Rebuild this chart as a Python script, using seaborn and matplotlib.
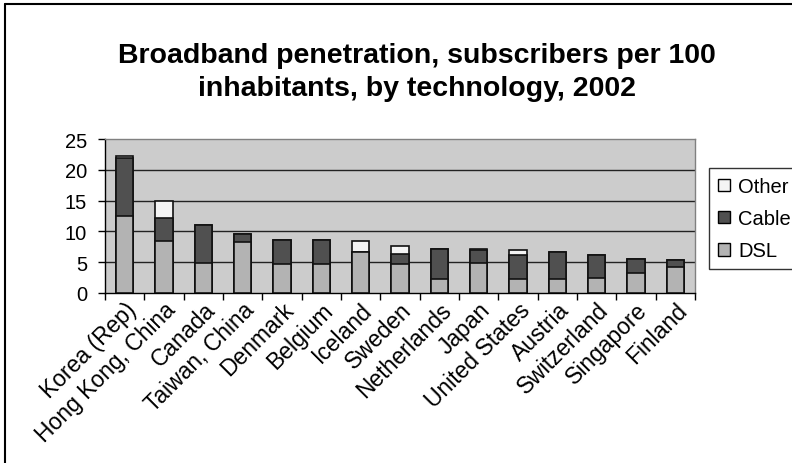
import numpy as np
import pandas as pd
import matplotlib
matplotlib.use("Agg")
import matplotlib.pyplot as plt
import matplotlib.transforms as mtransforms
from matplotlib.lines import Line2D
from matplotlib.patches import Patch
import seaborn as sns

countries = ["Korea (Rep)", "Hong Kong, China", "Canada", "Taiwan, China", "Denmark",
             "Belgium", "Iceland", "Sweden", "Netherlands", "Japan",
             "United States", "Austria", "Switzerland", "Singapore", "Finland"]
dsl = [12.5, 8.4, 4.9, 8.3, 4.7, 4.7, 6.6, 4.7, 2.3, 4.9, 2.3, 2.3, 2.5, 3.2, 4.2]
cable = [9.4, 3.7, 6.2, 1.2, 3.9, 3.9, 0.0, 1.6, 4.8, 2.0, 3.9, 4.3, 3.7, 2.3, 1.1]
other = [0.3, 2.8, 0.0, 0.0, 0.0, 0.0, 1.8, 1.4, 0.0, 0.2, 0.7, 0.0, 0.0, 0.0, 0.0]
y_ticks = [0, 5, 10, 15, 20, 25]

c_dsl = "#b3b3b3"
c_cable = "#505050"
c_other = "#f4f4f4"

df = pd.DataFrame({"country": countries, "dsl": dsl, "cable": cable, "other": other})
df["dsl_cable"] = df["dsl"] + df["cable"]
df["total"] = df["dsl_cable"] + df["other"]

sns.set_theme(style="white")
plt.rcParams["font.family"] = ["Liberation Sans", "DejaVu Sans"]
plt.rcParams["text.color"] = "black"
plt.rcParams["xtick.color"] = "black"
plt.rcParams["ytick.color"] = "black"

fig = plt.figure(figsize=(7.92, 4.64), dpi=100)
ax = fig.add_axes([105 / 792, 1 - 294 / 464, (695 - 105) / 792, (294 - 140) / 464])
ax.set_facecolor("#cccccc")

# stacked bars drawn as overlapping cumulative totals
bar_kw = dict(width=0.44, edgecolor="#111111", linewidth=1.2, saturation=1, ax=ax, zorder=3)
sns.barplot(data=df, x="country", y="total", color=c_other, **bar_kw)
sns.barplot(data=df, x="country", y="dsl_cable", color=c_cable, **bar_kw)
sns.barplot(data=df, x="country", y="dsl", color=c_dsl, **bar_kw)

ax.set_xlim(-0.5, len(countries) - 0.5)
ax.set_ylim(0, 25)
ax.set_yticks(y_ticks)
for v in y_ticks[1:-1]:
    ax.axhline(v, color="#222222", linewidth=1.0, zorder=1)

ax.set_xlabel("")
ax.set_ylabel("")
ax.set_xticks(range(len(countries)))
ax.set_xticklabels(countries, rotation=45, ha="right", rotation_mode="anchor", fontsize=16.5)
shift = mtransforms.ScaledTranslation(-7 / 100, 0, fig.dpi_scale_trans)
for lbl in ax.get_xticklabels():
    lbl.set_transform(lbl.get_transform() + shift)
ax.set_xticks(np.arange(-0.5, len(countries), 1), minor=True)
ax.tick_params(axis="x", which="major", length=0, pad=3.5)
ax.tick_params(axis="x", which="minor", length=5, width=1, color="black", direction="out", bottom=True)
ax.tick_params(axis="y", length=5, width=1, color="black", direction="out", left=True,
               labelsize=14.5, pad=8)

for side in ["left", "bottom"]:
    ax.spines[side].set_color("black")
    ax.spines[side].set_linewidth(1.0)
for side in ["top", "right"]:
    ax.spines[side].set_color("#808080")
    ax.spines[side].set_linewidth(1.0)

fig.text(417 / 792, 1 - 56 / 464, "Broadband penetration, subscribers per 100",
         ha="center", va="center", fontsize=20.5, fontweight="bold", color="black")
fig.text(417 / 792, 1 - 89 / 464, "inhabitants, by technology, 2002",
         ha="center", va="center", fontsize=20.5, fontweight="bold", color="black")

handles = [Patch(facecolor=c_other, edgecolor="black", linewidth=1),
           Patch(facecolor=c_cable, edgecolor="black", linewidth=1),
           Patch(facecolor=c_dsl, edgecolor="black", linewidth=1)]
leg = fig.legend(handles, ["Other", "Cable", "DSL"], loc="upper left",
                 bbox_to_anchor=(709 / 792, 1 - 169 / 464), fontsize=14.5,
                 frameon=True, fancybox=False, handlelength=0.6, handleheight=0.6,
                 handletextpad=0.4, borderpad=0.45, labelspacing=0.65, borderaxespad=0)
leg.get_frame().set_edgecolor("black")
leg.get_frame().set_linewidth(1.0)

# outer chart frame
fig.add_artist(Line2D([5 / 792, 5 / 792], [0, 1 - 5 / 464], color="black", linewidth=1.5))
fig.add_artist(Line2D([5 / 792, 1], [1 - 5 / 464, 1 - 5 / 464], color="black", linewidth=1.5))

fig.savefig("out.png", dpi=100)
